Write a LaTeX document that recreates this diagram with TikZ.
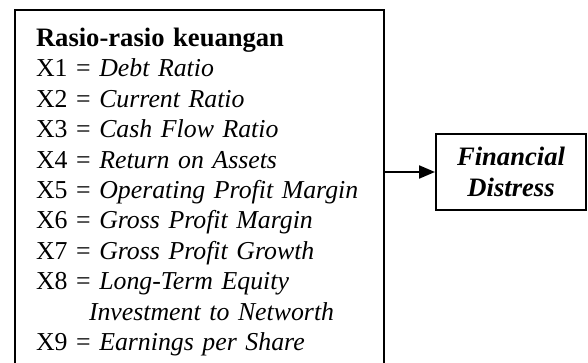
\documentclass[tikz,border=0pt]{standalone}
\usepackage{fontspec}
\setmainfont{Liberation Serif}
\usetikzlibrary{arrows.meta, positioning}

\begin{document}
\begin{tikzpicture}[
  x=0.5pt, y=-0.5pt,
  listbox/.style={draw, line width=1pt, anchor=north west, align=left, text width=163.5pt, inner xsep=10.5pt, inner ysep=9pt, font=\fontsize{12.9}{15.2}\selectfont},
  outbox/.style={draw, line width=1pt, minimum width=75pt, minimum height=38pt, align=center, font=\fontsize{13.3}{15.2}\selectfont\bfseries\itshape},
  arr/.style={-{Triangle[length=8pt, width=6.5pt]}, line width=1pt}
]
  \clip (0,0) rectangle (588,363);

  \node[listbox] (ratios) at (14,9) {{\fontsize{13.3}{15.2}\selectfont\textbf{Rasio-rasio keuangan}}\\
    X1 = \textit{Debt Ratio}\\
    X2 = \textit{Current Ratio}\\
    X3 = \textit{Cash Flow Ratio}\\
    X4 = \textit{Return on Assets}\\
    \mbox{X5 = \textit{Operating Profit Margin}}\\
    X6 = \textit{Gross Profit Margin}\\
    X7 = \textit{Gross Profit Growth}\\
    X8 = \textit{Long-Term Equity}\\
    \hspace*{26.5pt}\textit{Investment to Networth}\\
    X9 = \textit{Earnings per Share}};

  \node[outbox] (distress) at (511,172) {Financial\\Distress};

  \draw[arr] (ratios.east |- distress.west) -- (distress.west);
\end{tikzpicture}
\end{document}
